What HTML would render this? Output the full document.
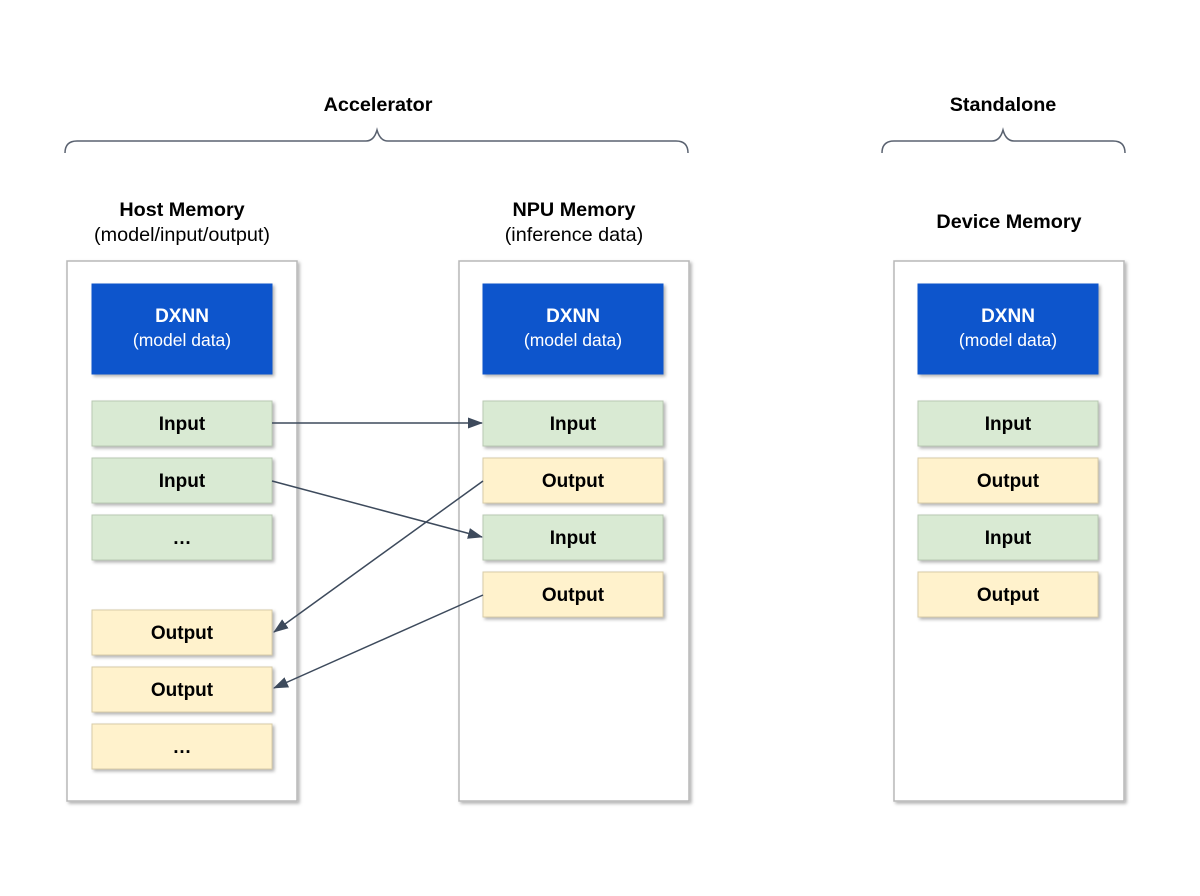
<!DOCTYPE html>
<html><head><meta charset="utf-8"><style>
html,body{margin:0;padding:0;background:#fff;}
svg{display:block;}
text{font-family:"Liberation Sans",Arial,sans-serif;}
</style></head><body>
<svg width="1200" height="896" viewBox="0 0 1200 896" xmlns="http://www.w3.org/2000/svg">
<defs>
<filter id="sh" x="-10%" y="-10%" width="130%" height="130%">
<feDropShadow dx="2" dy="2" stdDeviation="1.5" flood-color="#000" flood-opacity="0.3"/>
</filter>
<marker id="ah" markerWidth="15" markerHeight="11" refX="14" refY="5.5" orient="auto" markerUnits="userSpaceOnUse">
<path d="M0,0 L15,5.5 L0,11 z" fill="#3d4a5c"/>
</marker>
</defs>

<text x="378" y="111" font-size="19.8" font-weight="bold" text-anchor="middle">Accelerator</text>
<text x="1003" y="111" font-size="19.8" font-weight="bold" text-anchor="middle">Standalone</text>

<path d="M65,153 Q65,141 77,141 L366,141 Q374,141 377,130 Q380,141 388,141 L676,141 Q688,141 688,153" fill="none" stroke="#5a6270" stroke-width="1.5"/>
<path d="M882,153 Q882,141 894,141 L992,141 Q1000,141 1003,130 Q1006,141 1014,141 L1113,141 Q1125,141 1125,153" fill="none" stroke="#5a6270" stroke-width="1.5"/>

<text x="182" y="216" font-size="19.8" font-weight="bold" text-anchor="middle">Host Memory</text>
<text x="182" y="241" font-size="19.8" text-anchor="middle">(model/input/output)</text>
<text x="574" y="216" font-size="19.8" font-weight="bold" text-anchor="middle">NPU Memory</text>
<text x="574" y="241" font-size="19.8" text-anchor="middle">(inference data)</text>
<text x="1009" y="228" font-size="19.8" font-weight="bold" text-anchor="middle">Device Memory</text>

<g fill="#fff" stroke="#b8b8b8" stroke-width="1.5" filter="url(#sh)">
<rect x="67" y="261" width="230" height="540"/>
<rect x="459" y="261" width="230" height="540"/>
<rect x="894" y="261" width="230" height="540"/>
</g>

<g filter="url(#sh)" fill="#1155cc" stroke="#1155cc">
<rect x="92" y="284" width="180" height="90"/>
<rect x="483" y="284" width="180" height="90"/>
<rect x="918" y="284" width="180" height="90"/>
</g>
<g fill="#fff" text-anchor="middle">
<text x="182" y="322" font-size="19" font-weight="bold">DXNN</text>
<text x="182" y="346" font-size="17.5">(model data)</text>
<text x="573" y="322" font-size="19" font-weight="bold">DXNN</text>
<text x="573" y="346" font-size="17.5">(model data)</text>
<text x="1008" y="322" font-size="19" font-weight="bold">DXNN</text>
<text x="1008" y="346" font-size="17.5">(model data)</text>
</g>

<g filter="url(#sh)" fill="#d9ead3" stroke="#b9c9b3">
<rect x="92" y="401" width="180" height="45"/>
<rect x="92" y="458" width="180" height="45"/>
<rect x="92" y="515" width="180" height="45"/>
<rect x="483" y="401" width="180" height="45"/>
<rect x="483" y="515" width="180" height="45"/>
<rect x="918" y="401" width="180" height="45"/>
<rect x="918" y="515" width="180" height="45"/>
</g>
<g filter="url(#sh)" fill="#fff2cc" stroke="#d8cca8">
<rect x="92" y="610" width="180" height="45"/>
<rect x="92" y="667" width="180" height="45"/>
<rect x="92" y="724" width="180" height="45"/>
<rect x="483" y="458" width="180" height="45"/>
<rect x="483" y="572" width="180" height="45"/>
<rect x="918" y="458" width="180" height="45"/>
<rect x="918" y="572" width="180" height="45"/>
</g>

<g font-size="19" font-weight="bold" text-anchor="middle" fill="#000">
<text x="182" y="430">Input</text>
<text x="182" y="487">Input</text>
<text x="182" y="544">…</text>
<text x="182" y="639">Output</text>
<text x="182" y="696">Output</text>
<text x="182" y="753">…</text>
<text x="573" y="430">Input</text>
<text x="573" y="487">Output</text>
<text x="573" y="544">Input</text>
<text x="573" y="601">Output</text>
<text x="1008" y="430">Input</text>
<text x="1008" y="487">Output</text>
<text x="1008" y="544">Input</text>
<text x="1008" y="601">Output</text>
</g>

<g stroke="#3d4a5c" stroke-width="1.5" fill="none" marker-end="url(#ah)">
<line x1="272" y1="423" x2="482" y2="423"/>
<line x1="272" y1="481" x2="482" y2="537"/>
<line x1="483" y1="481" x2="274" y2="632"/>
<line x1="483" y1="595" x2="274" y2="688"/>
</g>
</svg>
</body></html>
